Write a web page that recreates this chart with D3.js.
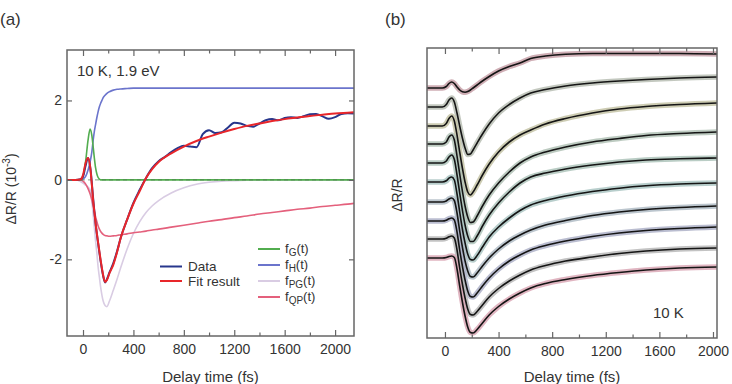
<!DOCTYPE html>
<html><head><meta charset="utf-8">
<script src="https://cdn.jsdelivr.net/npm/d3@7"></script>
<style>
body{margin:0;background:#fff;}
svg{display:block;font-family:"Liberation Sans",Arial,Helvetica,sans-serif;}
</style></head><body>
<svg id="c" width="732" height="384"></svg>
<script>
// ---------------- Panel (a) data ----------------
const tComp = [-125,-60,-20,0,20,40,56,70,80,90,100,110,120,130,140,150,160,175,190,210,240,270,300,350,400,450,500,550,600,700,800,900,1000,1100,1200,1300,1400,1500,1600,1700,1800,1900,2000,2100,2150];
const fitA  = [0,0,0.01,0.12,0.42,0.55,0.35,-0.12,-0.5,-0.8,-1.1,-1.35,-1.58,-1.8,-2.02,-2.22,-2.4,-2.57,-2.52,-2.35,-2.14,-1.82,-1.45,-1.0,-0.6,-0.28,0.05,0.28,0.45,0.67,0.84,0.98,1.09,1.19,1.28,1.36,1.42,1.48,1.53,1.57,1.61,1.64,1.67,1.69,1.70];
const fG    = [0,0,0,0.1,0.45,1.0,1.28,1.12,0.85,0.55,0.3,0.15,0.06,0.02,0,0,0,0,0,0,0,0,0,0,0,0,0,0,0,0,0,0,0,0,0,0,0,0,0,0,0,0,0,0,0];
const fH    = [0,0,0,0.02,0.08,0.25,0.45,0.7,0.98,1.22,1.4,1.57,1.72,1.84,1.93,2.0,2.07,2.13,2.18,2.22,2.26,2.28,2.29,2.3,2.31,2.31,2.31,2.31,2.31,2.31,2.31,2.31,2.31,2.31,2.31,2.31,2.31,2.31,2.31,2.31,2.31,2.31,2.31,2.31,2.31];
const fPG   = [0,0,-0.04,-0.08,-0.13,-0.18,-0.25,-0.55,-0.85,-1.2,-1.55,-1.85,-2.2,-2.45,-2.7,-2.9,-3.05,-3.16,-3.19,-3.05,-2.78,-2.5,-2.2,-1.74,-1.35,-1.05,-0.82,-0.65,-0.52,-0.33,-0.2,-0.11,-0.06,-0.03,-0.02,-0.01,0,0,0,0,0,0,0,0,0];
const fQP   = [0,0,0,-0.03,-0.1,-0.22,-0.35,-0.5,-0.64,-0.8,-0.93,-1.05,-1.16,-1.24,-1.3,-1.34,-1.37,-1.4,-1.41,-1.42,-1.41,-1.4,-1.38,-1.36,-1.33,-1.31,-1.29,-1.26,-1.24,-1.19,-1.14,-1.09,-1.04,-1.0,-0.95,-0.91,-0.86,-0.82,-0.78,-0.74,-0.71,-0.67,-0.64,-0.61,-0.59];
const tData = [-125,-60,-20,0,20,40,60,80,100,120,140,160,175,190,210,240,270,300,350,400,450,500,550,600,650,700,750,800,850,900,950,1000,1050,1100,1150,1200,1250,1300,1350,1400,1450,1500,1550,1600,1650,1700,1750,1800,1850,1900,1950,2000,2050,2100,2150];
const dataA = [0,0,0.02,0.08,0.35,0.55,0.25,-0.45,-1.1,-1.6,-2.05,-2.42,-2.58,-2.5,-2.33,-2.1,-1.8,-1.45,-1.0,-0.58,-0.25,0.05,0.3,0.47,0.58,0.7,0.8,0.86,0.84,0.82,1.15,1.25,1.18,1.2,1.32,1.44,1.42,1.36,1.34,1.42,1.5,1.53,1.5,1.56,1.58,1.56,1.6,1.65,1.66,1.6,1.54,1.58,1.66,1.68,1.67];
const xTicks = [0,400,800,1200,1600,2000];
const xMinor = [200,600,1000,1400,1800];
const yTicksA = [-2,0,2];

// ---------------- Panel (b) data ----------------
const tB = [-134,-60,-20,10,30,50,70,90,110,130,150,170,190,210,240,280,330,400,480,560,640,750,900,1100,1300,1500,1750,2030];
const offsetsB = [-4.0,-5.9,-7.8,-9.6,-11.5,-13.4,-15.4,-17.3,-19.1,-21.0];
const tracesB = [
 [0,0,0,0.15,0.45,0.6,0.45,0.1,-0.2,-0.38,-0.42,-0.35,-0.2,0.0,0.3,0.7,1.15,1.7,2.15,2.5,2.95,3.2,3.38,3.45,3.45,3.45,3.45,3.4],
 [0,0,0,0.25,0.7,0.9,0.5,-0.6,-1.9,-3.1,-4.1,-4.75,-4.7,-4.3,-3.6,-2.7,-1.7,-0.6,0.25,0.9,1.4,1.75,2.1,2.4,2.6,2.75,2.9,3.0],
 [0,0,0,0.25,0.75,1.0,0.5,-0.9,-2.6,-4.2,-5.6,-6.6,-6.9,-6.6,-5.9,-4.9,-3.8,-2.6,-1.6,-0.9,-0.4,0.2,0.75,1.3,1.7,1.95,2.15,2.3],
 [0,0,0,0.2,0.7,0.9,0.4,-1.2,-3.0,-4.7,-6.2,-7.3,-7.85,-7.8,-7.2,-6.2,-5.1,-3.9,-2.8,-1.9,-1.3,-0.8,-0.3,0.2,0.55,0.85,1.05,1.2],
 [0,0,0,0.2,0.6,0.8,0.35,-1.2,-3.0,-4.7,-6.2,-7.3,-7.85,-7.85,-7.3,-6.3,-5.2,-4.0,-2.9,-2.0,-1.4,-1.0,-0.6,-0.2,0.1,0.3,0.42,0.5],
 [0,0,0,0.12,0.38,0.5,0.2,-1.2,-3.0,-4.7,-6.1,-7.2,-7.75,-7.8,-7.35,-6.5,-5.5,-4.5,-3.6,-2.85,-2.3,-1.85,-1.4,-0.95,-0.62,-0.38,-0.2,-0.1],
 [0,0,0,0.1,0.3,0.4,0.15,-1.1,-2.9,-4.5,-5.9,-6.9,-7.45,-7.5,-7.1,-6.4,-5.6,-4.7,-3.9,-3.3,-2.8,-2.3,-1.85,-1.35,-1.0,-0.75,-0.55,-0.4],
 [0,0,0,0.08,0.22,0.3,0.1,-1.1,-2.9,-4.5,-5.9,-7.0,-7.55,-7.6,-7.2,-6.5,-5.7,-4.8,-4.0,-3.4,-2.9,-2.45,-2.0,-1.55,-1.2,-0.95,-0.75,-0.6],
 [0,0,0,0.08,0.22,0.3,0.1,-1.1,-2.9,-4.5,-5.9,-7.0,-7.55,-7.6,-7.25,-6.6,-5.8,-4.95,-4.2,-3.6,-3.1,-2.65,-2.2,-1.8,-1.45,-1.2,-1.0,-0.9],
 [0,0,0,0.05,0.15,0.2,0.05,-1.1,-2.8,-4.4,-5.8,-6.9,-7.45,-7.5,-7.15,-6.5,-5.7,-4.85,-4.1,-3.5,-3.0,-2.55,-2.15,-1.75,-1.45,-1.2,-1.0,-0.9]
];
const bandColors = ["#c7a0a8","#b8beb4","#c4c3a6","#b2c2b6","#aec4bb","#abc5c3","#b0bcc6","#aeb2c8","#b9b9b9","#dba8b6"];

const svg = d3.select("#c");
const FS = 14;
const axisCol = "#666";
const txtCol = "#333";

// scales
const xA = d3.scaleLinear().domain([-127, 2150]).range([67, 354]);
const yA = d3.scaleLinear().domain([-3.93, 3.27]).range([336, 50]);
const xB = d3.scaleLinear().domain([-134, 2030]).range([427, 717]);
const yB = d3.scaleLinear().domain([-29, 0]).range([338, 48]);

function styleAxis(g){
  g.select(".domain").remove();
  g.selectAll("line").attr("stroke", axisCol).attr("stroke-width", 1.2);
  g.selectAll("text").attr("fill", txtCol).attr("font-size", FS).attr("font-family", '"Liberation Sans",Arial,sans-serif');
}
function frameAxes(x, y, showY){
  const [x0,x1] = x.range(); const [y1,y0] = y.range();
  svg.append("g").attr("transform",`translate(0,${y1})`)
    .call(d3.axisBottom(x).tickValues(xTicks).tickSizeInner(-6).tickSizeOuter(0).tickPadding(8).tickFormat(d=>String(d))).call(styleAxis);
  svg.append("g").attr("transform",`translate(0,${y1})`)
    .call(d3.axisBottom(x).tickValues(xMinor).tickSizeInner(-3.5).tickSizeOuter(0).tickFormat("")).call(styleAxis);
  svg.append("g").attr("transform",`translate(0,${y0})`)
    .call(d3.axisTop(x).tickValues(xTicks).tickSizeInner(-6).tickSizeOuter(0).tickFormat("")).call(styleAxis);
  svg.append("g").attr("transform",`translate(0,${y0})`)
    .call(d3.axisTop(x).tickValues(xMinor).tickSizeInner(-3.5).tickSizeOuter(0).tickFormat("")).call(styleAxis);
  if(showY){
    svg.append("g").attr("transform",`translate(${x0},0)`)
      .call(d3.axisLeft(y).tickValues(yTicksA).tickSizeInner(-5).tickSizeOuter(0).tickPadding(5).tickFormat(d=>String(d))).call(styleAxis);
    svg.append("g").attr("transform",`translate(${x1},0)`)
      .call(d3.axisRight(y).tickValues(yTicksA).tickSizeInner(-5).tickSizeOuter(0).tickFormat("")).call(styleAxis);
  }
  svg.append("rect").attr("x",x0).attr("y",y0).attr("width",x1-x0).attr("height",y1-y0)
    .attr("fill","none").attr("stroke",axisCol).attr("stroke-width",1.5);
}

// ---------- Panel (a) ----------
svg.append("clipPath").attr("id","clipA").append("rect")
  .attr("x",67).attr("y",50).attr("width",287).attr("height",286);
const gA = svg.append("g").attr("clip-path","url(#clipA)");
const lineA = (ts, vs) => d3.line().x((d,i)=>xA(ts[i])).y(d=>yA(d)).curve(d3.curveMonotoneX)(vs);

gA.append("path").attr("d", lineA(tComp, fPG)).attr("fill","none").attr("stroke","#d9cce3").attr("stroke-width",1.6);
gA.append("path").attr("d", lineA(tComp, fQP)).attr("fill","none").attr("stroke","#e4607c").attr("stroke-width",1.6);
gA.append("path").attr("d", lineA(tComp, fH)).attr("fill","none").attr("stroke","#6b74cc").attr("stroke-width",1.6);
gA.append("path").attr("d", lineA(tComp, fG)).attr("fill","none").attr("stroke","#52ad4f").attr("stroke-width",1.6);
gA.append("line").attr("x1",xA(-127)).attr("x2",xA(2150)).attr("y1",yA(0)).attr("y2",yA(0))
  .attr("stroke","#4f7a4f").attr("stroke-width",1).attr("stroke-dasharray","4,3").attr("opacity",0.7);
gA.append("path").attr("d", lineA(tData, dataA)).attr("fill","none").attr("stroke","#27368c").attr("stroke-width",2);
gA.append("path").attr("d", lineA(tComp, fitA)).attr("fill","none").attr("stroke","#e8262a").attr("stroke-width",2);

frameAxes(xA, yA, true);

// legend (a)
const legA = [["Data","#27368c",266.5],["Fit result","#e8262a",281]];
legA.forEach(([lab,col,yy])=>{
  svg.append("line").attr("x1",160).attr("x2",182).attr("y1",yy).attr("y2",yy).attr("stroke",col).attr("stroke-width",2);
  svg.append("text").attr("x",188).attr("y",yy+4.5).attr("font-size",FS-0.5).attr("fill",txtCol).text(lab);
});
const legF = [["G","#52ad4f",249],["H","#6b74cc",265],["PG","#d9cce3",281],["QP","#e4607c",297]];
legF.forEach(([sub,col,yy])=>{
  svg.append("line").attr("x1",258).attr("x2",280).attr("y1",yy).attr("y2",yy).attr("stroke",col).attr("stroke-width",2);
  const t = svg.append("text").attr("x",285).attr("y",yy+4).attr("font-size",FS-1).attr("fill",txtCol);
  t.append("tspan").text("f");
  t.append("tspan").attr("font-size",FS-4).attr("dy",3).text(sub);
  t.append("tspan").attr("dy",-3).text("(t)");
});

svg.append("text").attr("x",77).attr("y",76).attr("font-size",FS+1).attr("fill",txtCol).text("10 K, 1.9 eV");
svg.append("text").attr("x",210.5).attr("y",382).attr("text-anchor","middle").attr("font-size",FS+1).attr("fill",txtCol).text("Delay time (fs)");
const yl = svg.append("text").attr("transform","translate(16,189) rotate(-90)").attr("text-anchor","middle")
  .attr("font-size",FS).attr("fill",txtCol);
yl.append("tspan").text("ΔR/R (10");
yl.append("tspan").attr("font-size",FS-4).attr("dy",-6).text("-3");
yl.append("tspan").attr("dy",6).text(")");
svg.append("text").attr("x",0).attr("y",25).attr("font-size",17).attr("fill",txtCol).text("(a)");

// ---------- Panel (b) ----------
svg.append("clipPath").attr("id","clipB").append("rect")
  .attr("x",427).attr("y",48).attr("width",290).attr("height",290);
const gB = svg.append("g").attr("clip-path","url(#clipB)");
const lineB = (vs, off) => d3.line().x((d,i)=>xB(tB[i])).y(d=>yB(d+off)).curve(d3.curveMonotoneX)(vs);
tracesB.forEach((vs,i)=>{
  gB.append("path").attr("d", lineB(vs, offsetsB[i])).attr("fill","none")
    .attr("stroke",bandColors[i]).attr("stroke-width",5.5).attr("opacity",0.85).attr("stroke-linejoin","round");
});
tracesB.forEach((vs,i)=>{
  gB.append("path").attr("d", lineB(vs, offsetsB[i])).attr("fill","none")
    .attr("stroke","#151515").attr("stroke-width",1.6);
});
frameAxes(xB, yB, false);
svg.append("text").attr("x",653).attr("y",318).attr("font-size",FS+1).attr("fill",txtCol).text("10 K");
svg.append("text").attr("x",572).attr("y",382).attr("text-anchor","middle").attr("font-size",FS+1).attr("fill",txtCol).text("Delay time (fs)");
svg.append("text").attr("transform","translate(402,195) rotate(-90)").attr("text-anchor","middle")
  .attr("font-size",FS).attr("fill",txtCol).text("ΔR/R");
svg.append("text").attr("x",385).attr("y",25).attr("font-size",17).attr("fill",txtCol).text("(b)");
</script>
</body></html>
